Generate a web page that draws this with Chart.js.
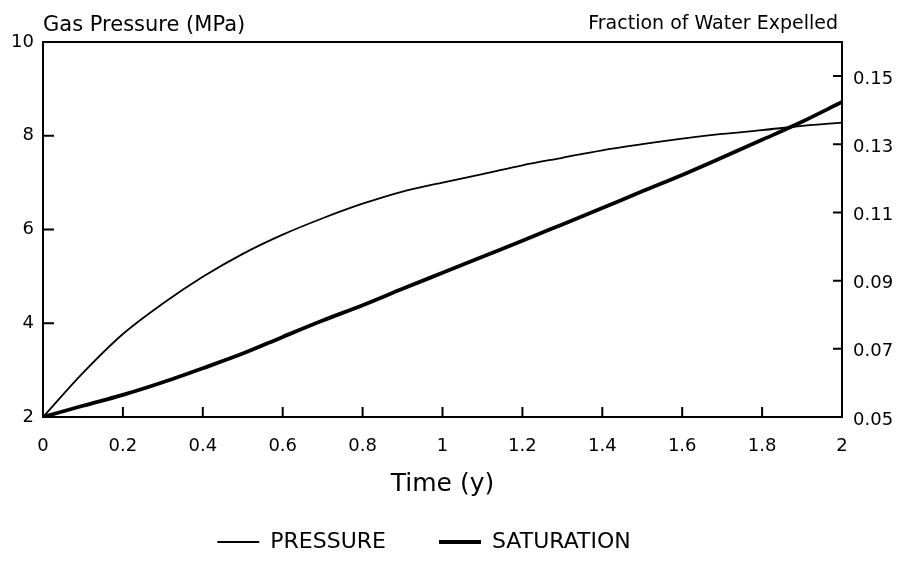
<!DOCTYPE html>
<html>
<head>
<meta charset="utf-8">
<script src="https://cdn.jsdelivr.net/npm/chart.js@4/dist/chart.umd.min.js"></script>
<style>
html,body{margin:0;padding:0;background:#fff;}
#wrap{width:910px;height:567px;position:relative;}
</style>
</head>
<body>
<div id="wrap"><canvas id="c" width="910" height="567"></canvas></div>
<script>
// ---- data ----
const timeYears = [0, 0.1, 0.2, 0.3, 0.4, 0.5, 0.6, 0.7, 0.8, 0.9, 1.0, 1.1, 1.2, 1.3, 1.4, 1.5, 1.6, 1.7, 1.8, 1.9, 2.0];
const pressureMPa = [2.0, 2.94, 3.77, 4.42, 4.99, 5.48, 5.89, 6.24, 6.55, 6.81, 7.00, 7.18, 7.37, 7.53, 7.69, 7.82, 7.94, 8.04, 8.12, 8.21, 8.28];
const saturationFraction = [0.05, 0.0533, 0.0565, 0.0602, 0.0643, 0.0686, 0.0735, 0.0783, 0.0828, 0.0876, 0.0923, 0.0970, 0.1017, 0.1065, 0.1113, 0.1162, 0.1210, 0.1261, 0.1313, 0.1366, 0.1424];
const xTickValues = [0, 0.2, 0.4, 0.6, 0.8, 1.0, 1.2, 1.4, 1.6, 1.8, 2.0];
const leftTickValues = [2, 4, 6, 8, 10];
const rightTickValues = [0.05, 0.07, 0.09, 0.11, 0.13, 0.15];
const seriesNames = ['PRESSURE', 'SATURATION'];
const xAxisTitle = 'Time (y)';
const leftAxisTitle = 'Gas Pressure (MPa)';
const rightAxisTitle = 'Fraction of Water Expelled';

const FONT = '"DejaVu Sans", sans-serif';

const framePlugin = {
  id: 'framePlugin',
  afterDraw(chart) {
    const {ctx, chartArea: a, scales} = chart;
    ctx.save();
    ctx.strokeStyle = '#000';
    ctx.lineWidth = 2;
    ctx.beginPath();
    ctx.moveTo(a.left - 1, a.top);
    ctx.lineTo(a.right + 1, a.top);
    ctx.stroke();
    ctx.beginPath();
    scales.x.ticks.forEach(t => {
      const px = scales.x.getPixelForValue(t.value);
      ctx.moveTo(px, a.bottom);
      ctx.lineTo(px, a.bottom - 10);
    });
    scales.y.ticks.forEach(t => {
      const py = scales.y.getPixelForValue(t.value);
      ctx.moveTo(a.left, py);
      ctx.lineTo(a.left + 11, py);
    });
    scales.y2.ticks.forEach(t => {
      const py = scales.y2.getPixelForValue(t.value);
      ctx.moveTo(a.right, py);
      ctx.lineTo(a.right - 9, py);
    });
    ctx.stroke();
    ctx.fillStyle = '#000';
    ctx.textBaseline = 'alphabetic';
    ctx.font = '21px ' + FONT;
    ctx.textAlign = 'left';
    ctx.fillText(leftAxisTitle, a.left, 31);
    ctx.font = '19px ' + FONT;
    ctx.textAlign = 'right';
    ctx.fillText(rightAxisTitle, a.right - 4, 29);
    ctx.restore();
  }
};

const fmtX = v => String(Number(Number(v).toFixed(1)));

new Chart(document.getElementById('c'), {
  type: 'line',
  data: {
    datasets: [
      {
        label: seriesNames[0],
        data: timeYears.map((t, i) => ({x: t, y: pressureMPa[i]})),
        yAxisID: 'y',
        borderColor: '#000',
        backgroundColor: '#000',
        borderWidth: 1.8,
        pointRadius: 0,
        cubicInterpolationMode: 'monotone',
        fill: false
      },
      {
        label: seriesNames[1],
        data: timeYears.map((t, i) => ({x: t, y: saturationFraction[i]})),
        yAxisID: 'y2',
        borderColor: '#000',
        backgroundColor: '#000',
        borderWidth: 3.8,
        pointRadius: 0,
        cubicInterpolationMode: 'monotone',
        fill: false
      }
    ]
  },
  options: {
    responsive: false,
    animation: false,
    devicePixelRatio: 1,
    layout: {padding: {top: 42, left: -62, right: 0, bottom: 4}},
    scales: {
      x: {
        type: 'linear',
        min: 0, max: 2,
        afterBuildTicks: s => { s.ticks = xTickValues.map(v => ({value: v})); },
        afterFit: s => { s.height = 61; },
        grid: {display: false, drawTicks: false},
        border: {display: true, color: '#000', width: 2},
        ticks: {color: '#000', font: {family: FONT, size: 18}, padding: 19, maxRotation: 0, autoSkip: false, callback: v => fmtX(v)},
        title: {display: true, text: xAxisTitle, color: '#000', font: {family: FONT, size: 25}, padding: {top: 0, bottom: -21}}
      },
      y: {
        type: 'linear', position: 'left',
        min: 2, max: 10,
        afterBuildTicks: s => { s.ticks = leftTickValues.map(v => ({value: v})); },
        afterFit: s => { s.width = 105; },
        grid: {display: false, drawTicks: false},
        border: {display: true, color: '#000', width: 2},
        ticks: {color: '#000', font: {family: FONT, size: 18}, padding: 9, callback: v => String(v)}
      },
      y2: {
        type: 'linear', position: 'right',
        min: 0.05, max: 0.16,
        afterBuildTicks: s => { s.ticks = rightTickValues.map(v => ({value: v})); },
        afterFit: s => { s.width = 68; },
        grid: {display: false, drawTicks: false},
        border: {display: true, color: '#000', width: 2},
        ticks: {color: '#000', font: {family: FONT, size: 18}, padding: 11, labelOffset: 3, callback: v => Number(v).toFixed(2)}
      }
    },
    plugins: {
      legend: {
        display: true,
        position: 'bottom',
        labels: {
          color: '#000',
          font: {family: FONT, size: 22},
          usePointStyle: true,
          pointStyle: 'line',
          pointStyleWidth: 42,
          padding: 53
        }
      },
      tooltip: {enabled: false},
      title: {display: false}
    }
  },
  plugins: [framePlugin]
});
</script>
</body>
</html>
